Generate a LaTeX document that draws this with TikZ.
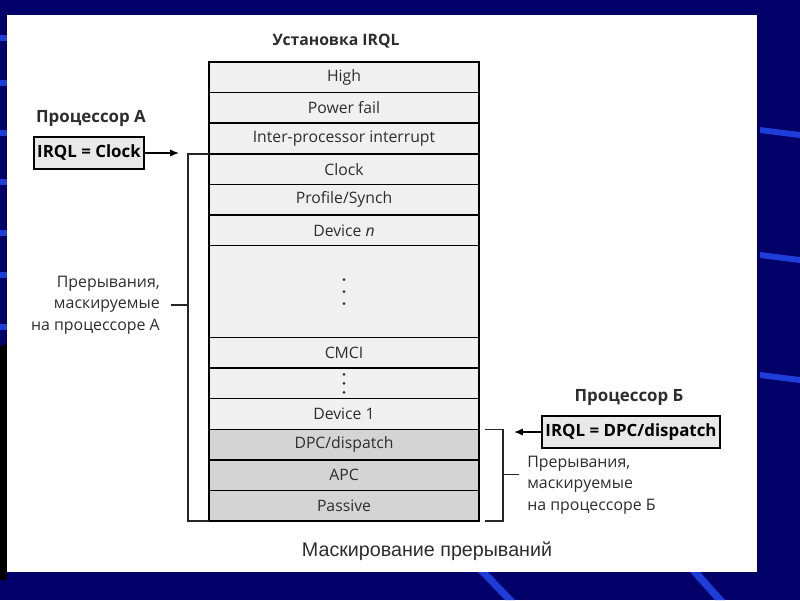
\documentclass[tikz,border=0pt]{standalone}
\usepackage{fontspec}
\setmainfont{Open Sans}
\newfontfamily\capfont{Liberation Sans}
\usetikzlibrary{arrows.meta,positioning,calc}
\definecolor{slidebg}{RGB}{0,0,104}
\definecolor{streak}{RGB}{30,60,215}
\definecolor{rowlt}{RGB}{240,240,240}
\definecolor{rowdk}{RGB}{212,212,212}
\definecolor{boxlt}{RGB}{232,232,232}
\definecolor{txtgray}{RGB}{45,45,45}
\tikzset{
  lvl/.style={draw=black, fill=rowlt, line width=1.1pt, outer sep=0pt, inner sep=0pt,
              minimum width=6.75cm, minimum height=0.765cm, text=txtgray,
              font=\fontsize{11.2}{13}\selectfont},
  lvldk/.style={lvl, fill=rowdk},
  irqlbox/.style={draw=black, fill=boxlt, line width=1.3pt, inner sep=2.5pt,
                  minimum height=0.78cm, font=\fontsize{12}{14}\selectfont\bfseries},
  cpuname/.style={font=\fontsize{12}{14}\selectfont\bfseries, text=txtgray},
  masklbl/.style={font=\fontsize{11.3}{15.3}\selectfont, text=txtgray, inner sep=0pt},
  brk/.style={line width=1pt, black!85},
  ptr/.style={-{Latex[length=2.2mm,width=1.8mm]}, line width=1pt},
}

\begin{document}
\begin{tikzpicture}[x=0.025cm, y=-0.025cm]
  % slide
  \fill[slidebg] (0,0) rectangle (800,600);
  \fill[black] (0,345) rectangle (7,580);
  \foreach \y in {38,83,133,182,233,275,327}{
    \fill[streak] (0,\y-3) rectangle (7,\y+3);
  }
  \foreach \y in {130,255,375}{
    \fill[streak] (760,\y-3) -- (800,\y+2) -- (800,\y+8) -- (760,\y+3) -- cycle;
  }
  \fill[streak] (478,572) -- (488,572) -- (515,600) -- (505,600) -- cycle;
  \fill[streak] (690,572) -- (700,572) -- (725,600) -- (715,600) -- cycle;
  \fill[white] (7,15) rectangle (757,572);
  \useasboundingbox (0,0) rectangle (800,600);

  % IRQL levels
  \node[cpuname, font=\fontsize{11.2}{13}\selectfont\bfseries] (title) at (336,41) {Установка IRQL};
  \node[lvl] (high) at (344,77.3) {High};
  \node[lvl, below=0pt of high] (pwr) {Power fail};
  \node[lvl, below=0pt of pwr] (ipi) {Inter-processor interrupt};
  \node[lvl, below=0pt of ipi] (clk) {Clock};
  \node[lvl, below=0pt of clk] (prof) {Profile/Synch};
  \node[lvl, below=0pt of prof] (devn) {Device \textit{n}};
  \node[lvl, below=0pt of devn, minimum height=2.295cm] (gap) {};
  \node[lvl, below=0pt of gap] (cmci) {CMCI};
  \node[lvl, below=0pt of cmci] (mid) {};
  \node[lvl, below=0pt of mid] (dev1) {Device 1};
  \node[lvldk, below=0pt of dev1] (dpc) {DPC/dispatch};
  \node[lvldk, below=0pt of dpc] (apc) {APC};
  \node[lvldk, below=0pt of apc] (pas) {Passive};
  \foreach \d in {-12,0,12}{
    \fill[txtgray] ($(gap.center)+(0,\d)$) circle (1.1pt);
  }
  \foreach \d in {-9,0,9}{
    \fill[txtgray] ($(mid.center)+(0,\d)$) circle (1.1pt);
  }

  % processor A
  \node[cpuname] (cpua) at (91,118) {Процессор А};
  \node[irqlbox] (irqla) at (89,153) {IRQL = Clock};
  \coordinate (tipa) at (179,153);
  \draw[ptr] (irqla.east) -- (tipa);
  \coordinate (bra) at ($(clk.north west)+(-21,0)$);
  \draw[brk] (clk.north west) -- (bra) |- (pas.south west);
  \node[masklbl, anchor=east, align=right] (maska) at (160,305)
       {Прерывания,\\маскируемые\\на процессоре А};
  \draw[brk] ([xshift=8pt]maska.east) -- (maska.east -| bra);

  % processor B
  \node[cpuname] (cpub) at (629,397) {Процессор Б};
  \node[irqlbox] (irqlb) at (631,432) {IRQL = DPC/dispatch};
  \coordinate (tipb) at (514,432);
  \draw[ptr] (irqlb.west) -- (tipb);
  \coordinate (brb) at ($(dpc.north east)+(24,0)$);
  \draw[brk] ([xshift=4pt]dpc.north east) -- (brb) |- ([xshift=4pt]pas.south east);
  \node[masklbl, anchor=west, align=left] (maskb) at (527,485)
       {Прерывания,\\маскируемые\\на процессоре Б};
  \coordinate (tickb) at ($(brb)+(0,45)$);
  \draw[brk] (tickb) -- ++(16,0);

  % caption
  \node[font=\capfont\fontsize{14}{16}\selectfont, text=txtgray] (caption) at (427,551)
       {Маскирование прерываний};
\end{tikzpicture}
\end{document}
